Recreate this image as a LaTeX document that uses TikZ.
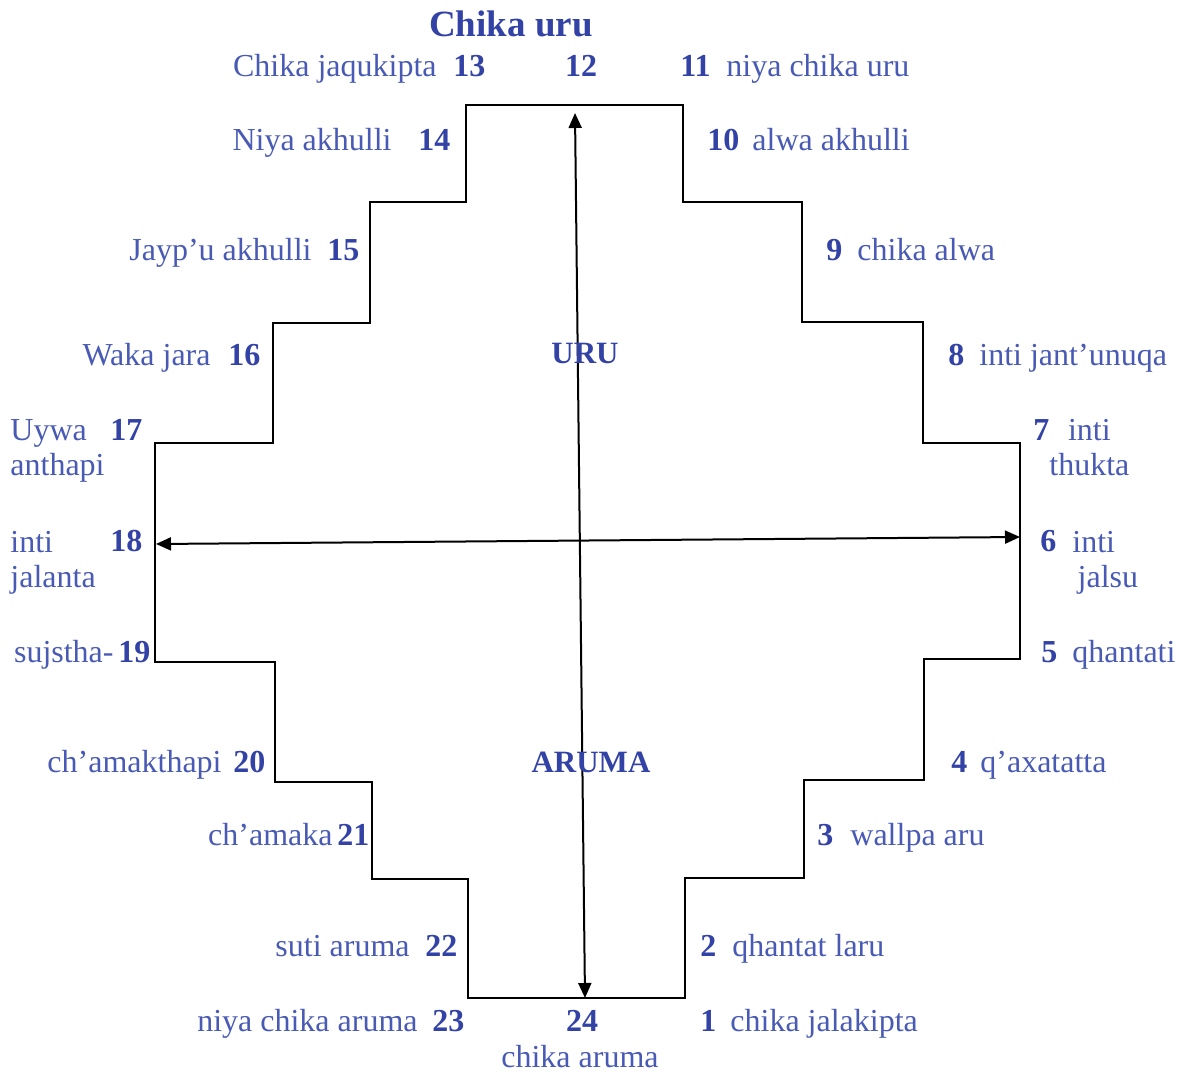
\documentclass[tikz,border=0pt]{standalone}
\usepackage{fontspec}
\setmainfont{Liberation Serif}
\usetikzlibrary{arrows.meta}
\definecolor{wordblue}{RGB}{72,90,180}
\definecolor{numblue}{RGB}{50,66,165}

\begin{document}
\begin{tikzpicture}
[x=0.5pt, y=-0.5pt,
 num/.style={inner sep=0pt, text=numblue, font=\fontsize{16}{17.5}\selectfont\bfseries},
 word/.style={inner sep=0pt, text=wordblue, font=\fontsize{16}{17.5}\selectfont},
 region/.style={inner sep=0pt, text=numblue, font=\fontsize{15.5}{17}\selectfont\bfseries},
 outline/.style={line width=1pt, line join=miter},
 axisline/.style={line width=1pt, {Triangle[length=7.5pt,width=6.5pt]}-{Triangle[length=7.5pt,width=6.5pt]}}]
\useasboundingbox (0,0) rectangle (1184,1072);

% stepped outline
\draw [outline] (466,105) -- (683,105) -- (683,202) -- (802,202) -- (802,322)
 -- (923,322) -- (923,443) -- (1020,443) -- (1020,659) -- (924,659) -- (924,780)
 -- (804,780) -- (804,878) -- (685,878) -- (685,998) -- (468,998) -- (468,879)
 -- (372,879) -- (372,782) -- (275,782) -- (275,662) -- (155,662) -- (155,443)
 -- (273,443) -- (273,323) -- (370,323) -- (370,202) -- (466,202) -- cycle;

% axes
\coordinate (uru end) at (575,113);
\coordinate (aruma end) at (585,998);
\coordinate (west end) at (156,544);
\coordinate (east end) at (1020,537);
\draw [axisline] (aruma end) -- (uru end);
\draw [axisline] (west end) -- (east end);

% numbers
\foreach \n/\x/\y/\a in {13/453/76/west, 14/418/150/west, 15/327/260/west,
 16/228/365/west, 17/110/440/west, 18/110/551/west, 19/118/662/west,
 20/233/772/west, 21/337/845/west, 22/425/956/west, 23/432/1031/west,
 11/680/76/west, 10/707/150/west, 9/826/260/west, 8/948/365/west,
 7/1033/440/west, 6/1040/551/west, 5/1041/662/west, 4/951/772/west,
 3/817/845/west, 2/700/956/west, 1/700/1031/west}{
	\node [num, anchor=base \a] (num \n) at (\x,\y) {\n};
}
\node [num, anchor=base] (num 12) at (581,76) {12};
\node [num, anchor=base] (num 24) at (582,1031) {24};

% names
\foreach \n/\x/\y/\a/\t in {13/437/76/east/Chika jaqukipta,
 14/392/150/east/Niya akhulli, 15/312/260/east/Jayp’u akhulli,
 16/211/365/east/Waka jara, 19/114/662/east/sujstha-,
 20/222/772/east/ch’amakthapi, 21/333/845/east/ch’amaka,
 22/410/956/east/suti aruma, 23/418/1031/east/niya chika aruma,
 11/726/76/west/niya chika uru, 10/752/150/west/alwa akhulli,
 9/857/260/west/chika alwa, 8/979/365/west/inti jant’unuqa,
 5/1072/662/west/qhantati, 4/980/772/west/q’axatatta,
 3/850/845/west/wallpa aru, 2/732/956/west/qhantat laru,
 1/730/1031/west/chika jalakipta}{
	\node [word, anchor=base \a] (name \n) at (\x,\y) {\t};
}
\node [word, anchor=base west, align=left] (name 17) at (10,475) {Uywa\\anthapi};
\node [word, anchor=base west, align=left] (name 18) at (10,587) {inti\\jalanta};
\node [word, anchor=base west, align=center] (name 7) at (1049,475) {inti\\thukta};
\node [word, anchor=base west, align=left] (name 6) at (1072,587) {inti\\\,jalsu};
\node [word, anchor=base] (name 24) at (580,1067) {chika aruma};
\node [num, anchor=base, font=\fontsize{18.5}{20}\selectfont\bfseries] (name 12) at (511,36) {Chika uru};

% regions
\node [region, anchor=base] (uru) at (585,363) {URU};
\node [region, anchor=base] (aruma) at (591,772) {ARUMA};
\end{tikzpicture}
\end{document}
